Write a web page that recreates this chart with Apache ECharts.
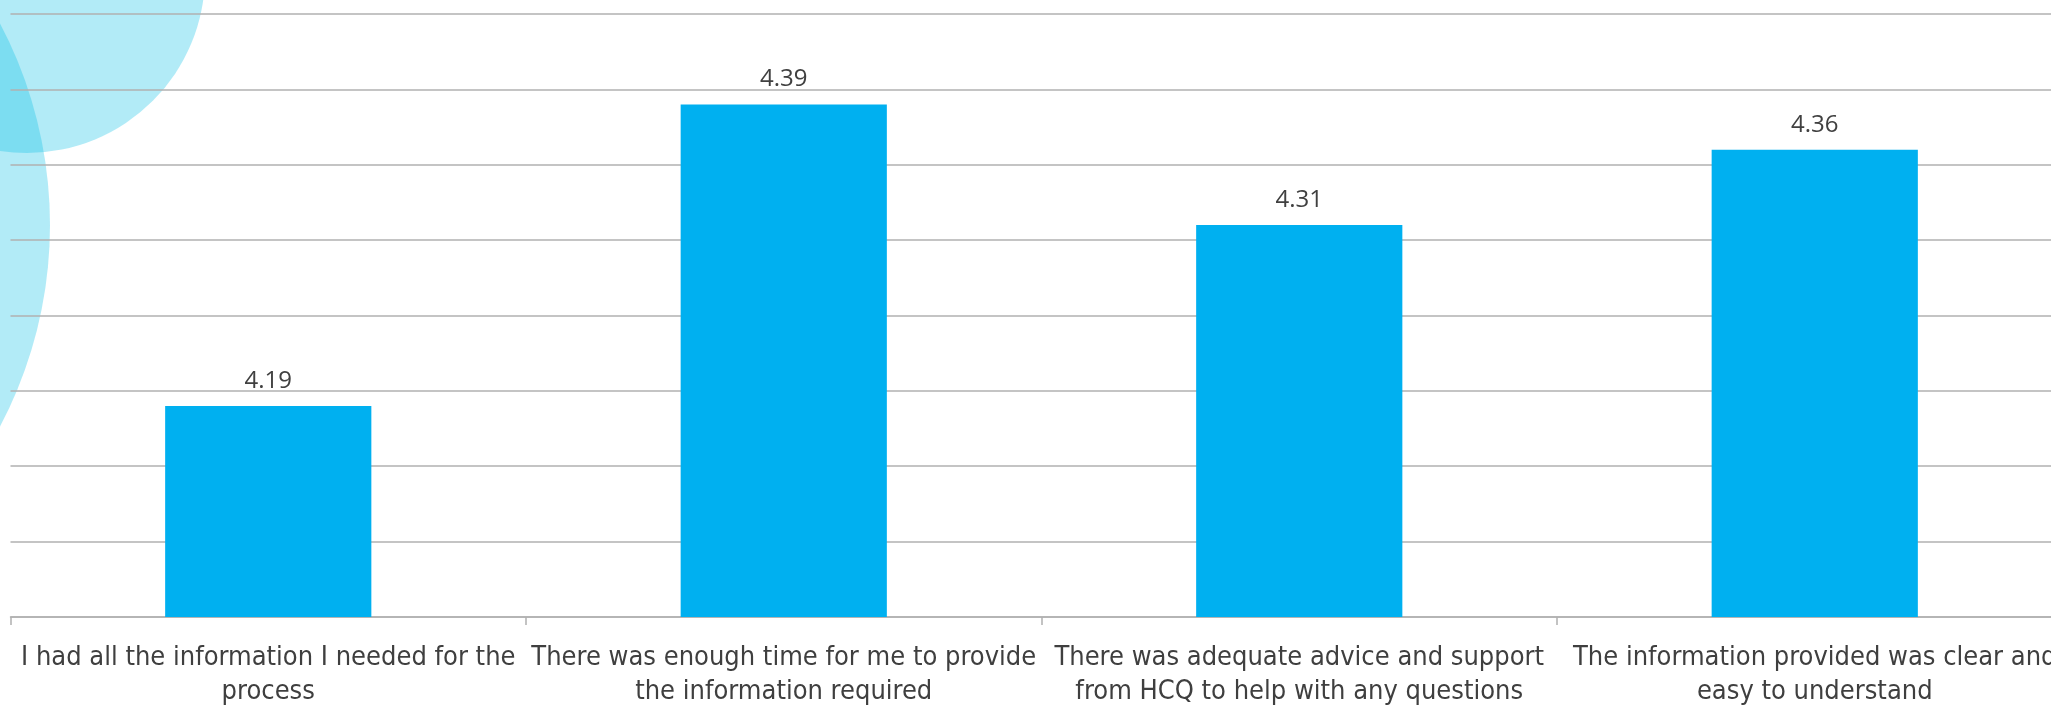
<!DOCTYPE html>
<html>
<head>
<meta charset="utf-8">
<title>Survey scores</title>
<script src="https://cdn.jsdelivr.net/npm/echarts@6/dist/echarts.min.js"></script>
<style>
  html, body { margin: 0; padding: 0; background: #ffffff; }
  #chart { width: 2051px; height: 707px; }
</style>
</head>
<body>
<div id="chart"></div>
<script>
// Survey statements (line breaks as laid out under the axis)
const categories = [
  'I had all the information I needed for the\nprocess',
  'There was enough time for me to provide\nthe information required',
  'There was adequate advice and support\nfrom HCQ to help with any questions',
  'The information provided was clear and\neasy to understand'
];
// Average score for each statement
const scores = [4.19, 4.39, 4.31, 4.36];

// Value axis range
const axisMin = 4.05;
const axisMax = 4.45;
const axisStep = 0.05;

const chart = echarts.init(document.getElementById('chart'));

const gridColor = '#b0b0b0';

chart.setOption({
  backgroundColor: '#ffffff',
  animation: false,
  graphic: {
    elements: [
      {
        type: 'circle', z: -10, silent: true,
        shape: { cx: -381, cy: 225, r: 431 },
        style: { fill: 'rgba(0,188,228,0.30)' }
      },
      {
        type: 'circle', z: -10, silent: true,
        shape: { cx: 27, cy: -25, r: 178 },
        style: { fill: 'rgba(0,188,228,0.30)' }
      }
    ]
  },
  grid: {
    left: 10.5,
    top: 14,
    width: 2062,
    height: 603,
    containLabel: false,
    outerBoundsMode: 'none'
  },
  xAxis: {
    type: 'category',
    data: categories,
    axisLine: { show: true, lineStyle: { color: gridColor, width: 1.5 } },
    axisTick: { show: true, length: 8, lineStyle: { color: gridColor, width: 1.5 } },
    axisLabel: {
      interval: 0,
      margin: 24,
      color: '#3f3f3f',
      fontSize: 27,
      lineHeight: 34,
      fontFamily: '"Liberation Sans Narrow", "DejaVu Sans Condensed", sans-serif'
    },
    splitLine: { show: false }
  },
  yAxis: {
    type: 'value',
    min: axisMin,
    max: axisMax,
    interval: axisStep,
    axisLine: { show: false },
    axisTick: { show: false },
    axisLabel: { show: false },
    splitLine: { show: true, lineStyle: { color: gridColor, width: 1.5 } }
  },
  series: [{
    type: 'bar',
    data: scores,
    barWidth: '40%',
    itemStyle: { color: '#00b0f0' },
    label: {
      show: true,
      position: 'top',
      distance: 13,
      color: '#404040',
      fontSize: 24,
      fontFamily: '"Open Sans", "Noto Sans", sans-serif',
      formatter: p => p.value.toFixed(2)
    }
  }]
});
</script>
</body>
</html>
